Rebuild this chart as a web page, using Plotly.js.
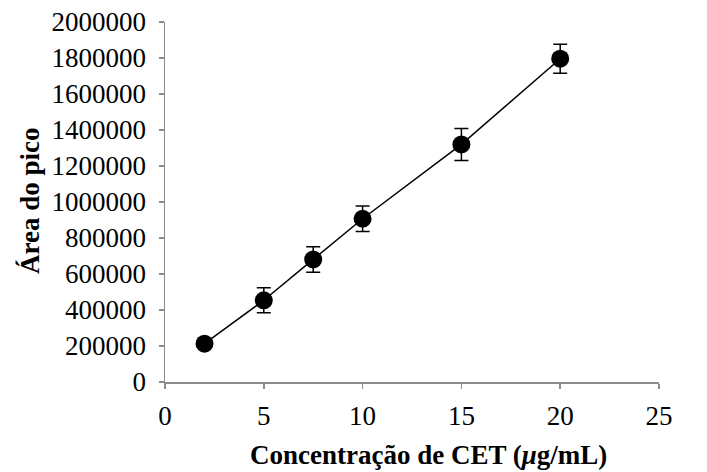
<!DOCTYPE html>
<html>
<head>
<meta charset="utf-8">
<script src="https://cdn.plot.ly/plotly-3.0.1.min.js"></script>
<style>html,body{margin:0;padding:0;background:#fff;}#chart{width:707px;height:472px;}</style>
</head>
<body>
<div id="chart"></div>
<script>
const concentration = [2, 5, 7.5, 10, 15, 20];
const peakArea = [213000, 454000, 681000, 907000, 1320000, 1796000];
const errorValues = [15000, 69000, 71000, 71000, 89000, 81000];
const xTickValues = [0, 5, 10, 15, 20, 25];
const yTickValues = [0, 200000, 400000, 600000, 800000, 1000000, 1200000, 1400000, 1600000, 1800000, 2000000];
const xTitle = 'Concentração de CET (<i>μ</i>g/mL)';
const yTitle = 'Área do pico';

const serif = '"Liberation Serif", "Times New Roman", serif';

const trace = {
  x: concentration,
  y: peakArea,
  type: 'scatter',
  mode: 'lines+markers',
  line: {color: '#000', width: 1.5},
  marker: {color: '#000', size: 18},
  error_y: {type: 'data', array: errorValues, visible: true, color: '#000', thickness: 1.5, width: 7},
  hoverinfo: 'x+y'
};

const axisCommon = {
  showgrid: false,
  zeroline: false,
  showline: true,
  linecolor: '#8c8c8c',
  linewidth: 1.5,
  ticks: 'outside',
  ticklen: 5,
  tickwidth: 1.5,
  tickcolor: '#8c8c8c',
  tickfont: {family: serif, size: 27, color: '#000'}
};

const layout = {
  width: 707,
  height: 472,
  margin: {l: 165, r: 48, t: 22, b: 90},
  paper_bgcolor: '#fff',
  plot_bgcolor: '#fff',
  showlegend: false,
  xaxis: Object.assign({}, axisCommon, {range: [0, 25], tickvals: xTickValues, ticklabelstandoff: 4}),
  yaxis: Object.assign({}, axisCommon, {range: [0, 2000000], tickvals: yTickValues, tickformat: 'd', ticklabelstandoff: 7}),
  annotations: [
    {text: '<b>' + xTitle + '</b>', xref: 'paper', yref: 'paper', x: 0.534, y: -0.203, xanchor: 'center', yanchor: 'middle', showarrow: false, font: {family: serif, size: 27, color: '#000'}},
    {text: '<b>' + yTitle + '</b>', xref: 'paper', yref: 'paper', x: -0.273, y: 0.503, xanchor: 'center', yanchor: 'middle', textangle: -90, showarrow: false, font: {family: serif, size: 27, color: '#000'}}
  ]
};

Plotly.newPlot('chart', [trace], layout, {displayModeBar: false, staticPlot: true});
</script>
</body>
</html>
